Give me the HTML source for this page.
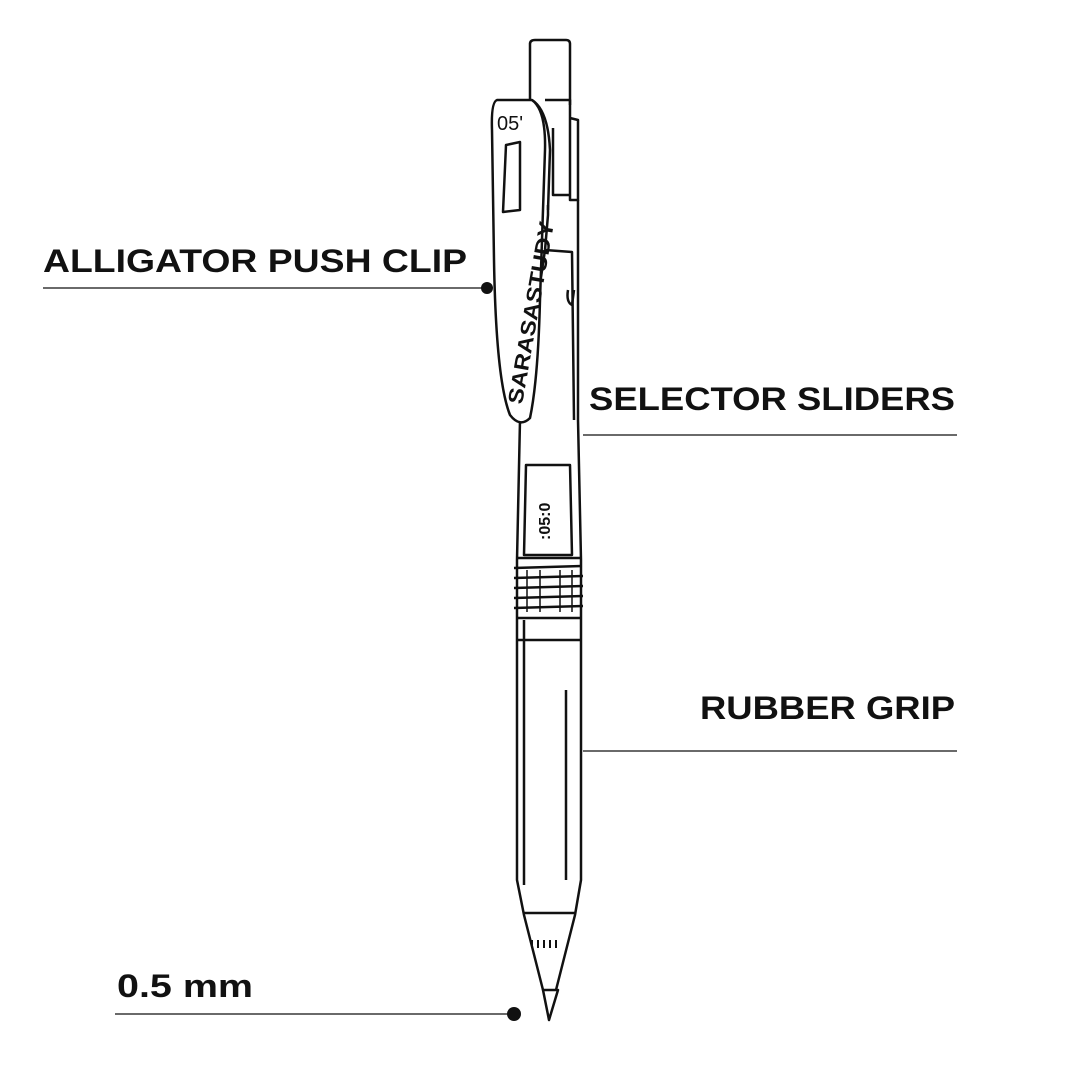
<!DOCTYPE html>
<html><head><style>html,body{margin:0;padding:0;background:#fff}svg{display:block}</style></head>
<body>
<svg width="1080" height="1080" viewBox="0 0 1080 1080" xmlns="http://www.w3.org/2000/svg">
<g font-family="Liberation Sans, sans-serif" font-weight="bold" font-size="32" fill="#111">
<text x="43" y="272" textLength="424" lengthAdjust="spacingAndGlyphs">ALLIGATOR PUSH CLIP</text>
<text x="589" y="410" textLength="366" lengthAdjust="spacingAndGlyphs">SELECTOR SLIDERS</text>
<text x="700" y="719" textLength="255" lengthAdjust="spacingAndGlyphs">RUBBER GRIP</text>
<text x="117" y="997" textLength="136" lengthAdjust="spacingAndGlyphs">0.5 mm</text>
</g>
<g stroke="#111" stroke-width="1.2">
<line x1="43" y1="288" x2="487" y2="288"/>
<line x1="583" y1="435" x2="957" y2="435"/>
<line x1="583" y1="751" x2="957" y2="751"/>
<line x1="115" y1="1014" x2="514" y2="1014"/>
</g>
<circle cx="487" cy="288" r="6" fill="#111"/>
<circle cx="514" cy="1014" r="7" fill="#111"/>
<g fill="none" stroke="#111" stroke-width="2.5" stroke-linejoin="round">
<path d="M530 105 L530 44 Q530 40 535 40 L566 40 Q570 40 570 44 L570 105"/>
<path d="M545 100 L570 100 L570 200 L578 200 L578 120 L570 118"/>
<path d="M553 128 L553 195 L570 195"/>
<path d="M548 205 L548 215 L545 250 L520 420 L517 560 L517 880 L524 915 L543 990"/>
<path d="M578 200 L578 420 L581 560 L581 880 L575 915 L556 990"/>
<path d="M545 250 L572 252 L574 420"/>
<path d="M568 290 Q566 302 572 305 L574 290"/>
<path d="M526 465 L570 465 L572 555 L524 555 Z"/>
<path d="M516 558 L582 558 M514 568 L582 566 M514 578 L583 576 M514 588 L583 586 M514 598 L583 596 M514 608 L583 606 M516 618 L582 618"/>
<path d="M527 570 L527 612 M540 570 L540 612 M560 570 L560 612 M572 570 L572 612" stroke-width="1.5"/>
<path d="M524 620 L524 885 M517 640 L581 640"/>
<path d="M566 690 L566 880"/>
<path d="M524 913 L576 913"/>
<path d="M532 940 L532 948 M538 940 L538 948 M544 940 L544 948 M550 940 L550 948 M556 940 L556 948" stroke-width="2"/>
<path d="M543 990 L558 990 L549 1020 Z"/>
<path d="M497 100 Q491 102 492 130 L494 260 Q496 380 510 415 Q520 428 530 418 Q538 380 540 300 L545 150 Q546 110 532 100 Z" fill="#fff"/>
<path d="M532 100 Q548 110 550 150 L548 210"/>
<path d="M506 145 L520 142 L520 210 L503 212 Z"/>
</g>
<text x="497" y="130" font-family="Liberation Sans, sans-serif" font-size="20" fill="#111">05'</text>
<text transform="translate(522,405) rotate(-80)" font-family="Liberation Sans, sans-serif" font-size="21" font-weight="bold" fill="#111" textLength="185" lengthAdjust="spacingAndGlyphs">SARASASTUDY</text>
<text transform="translate(550,540) rotate(-90)" font-family="Liberation Sans, sans-serif" font-size="16" font-weight="bold" fill="#111">:05:0</text>
</svg>
</body></html>
